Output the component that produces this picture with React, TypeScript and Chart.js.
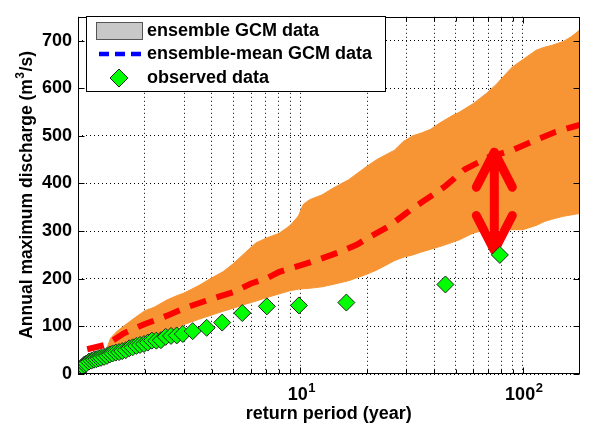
import React, { useEffect, useRef } from 'react';
import { Chart, registerables } from 'chart.js';

Chart.register(...registerables);

// Observed annual maxima, plotted at their empirical return periods (years)
const observedPeriod = [
  1.0, 1.01, 1.03, 1.05, 1.07, 1.09, 1.12, 1.15, 1.18, 1.21, 1.24, 1.27, 1.31, 1.35,
  1.39, 1.43, 1.48, 1.53, 1.58, 1.64, 1.7, 1.76, 1.83, 1.9, 1.98, 2.06, 2.15, 2.25,
  2.36, 2.48, 2.62, 2.78, 2.96, 3.28, 3.79, 4.45, 5.48, 7.07, 9.85, 16.1, 44.9, 78.9,
];
const observedDischarge = [
  3, 8, 12, 16, 20, 22, 26, 28, 30, 31, 33, 34, 36, 38,
  41, 43, 45, 46, 48, 50, 54, 56, 59, 61, 63, 66, 70, 70,
  71, 78, 80, 81, 84, 90, 97, 108, 128, 142, 144, 150, 188, 250,
];

// Envelope of the GCM ensemble
const bandPeriod = [
  1.0, 1.1, 1.2, 1.3, 1.35, 1.4, 1.5, 1.6, 1.8, 2.0, 2.2, 2.5, 2.8, 3.0, 3.5, 4.0, 4.5,
  5.0, 5.5, 6.3, 7, 8, 9, 9.8, 10.3, 11, 12.5, 14, 16.5, 19.5, 22, 26.5, 29, 32, 35,
  38.6, 42, 48, 52, 60, 69, 76, 82, 90, 100, 115, 125, 135, 152, 165, 180,
];
const bandUpper = [
  6, 20, 30, 40, 55, 75, 90, 100, 118, 133, 140, 155, 165, 170, 186, 202, 215,
  232, 250, 275, 285, 295, 312, 332, 356, 366, 376, 390, 408, 433, 450, 470, 488, 500, 506,
  514, 526, 542, 550, 568, 590, 608, 625, 645, 660, 680, 686, 690, 698, 708, 722,
];
const bandLower = [
  2, 14, 24, 33, 37, 40, 48, 55, 64, 70, 76, 85, 97, 104, 115, 124, 132,
  138, 145, 153, 160, 168, 175, 178, 179, 180, 183, 188, 196, 208, 218, 238, 245, 250, 256,
  262, 267, 276, 282, 296, 303, 303, 303, 303, 303, 312, 320, 325, 331, 334, 337,
];

// Ensemble-mean curve
const meanPeriod = [
  1.1, 1.35, 1.6, 2.0, 2.5, 3.0, 4.0, 5.0, 6.0, 7.0, 8.0, 10, 12, 15, 18, 20, 25, 30,
  35, 40, 45, 55, 70, 90, 110, 140, 180,
];
const meanDischarge = [
  52, 62, 85, 105, 122, 138, 158, 172, 190, 200, 214, 228, 240, 256, 272, 285, 310, 338,
  360, 378, 395, 430, 455, 470, 488, 508, 523,
];

// Gap between the ensemble mean and the observed 79-year event
const arrowPeriod = 74.5;
const arrowTop = 470;
const arrowBottom = 255;

const xGridValues = [1, 2, 3, 4, 5, 6, 7, 8, 9, 10, 20, 30, 40, 50, 60, 70, 80, 90, 100];
const xMajorValues = [1, 10, 100];
// decade labels: base and exponent
const xLabelValues = [10, 100];
const xLabelExponents = ['1', '2'];
const yTickValues = [0, 100, 200, 300, 400, 500, 600, 700];

const legendLabels = ['ensemble GCM data', 'ensemble-mean GCM data', 'observed data'];
const xTitle = 'return period (year)';
const yTitleParts = ['Annual maximum discharge (m', '3', '/s)'];

const FONT = '"Liberation Sans", Arial, Helvetica, sans-serif';
const ORANGE = 'rgb(247,149,52)';
const RED = '#ff0000';
const GREEN = '#00ff00';

const toPoints = (xs: number[], ys: number[]) => xs.map((x, i) => ({ x, y: ys[i] }));

const decorations = {
  id: 'decorations',
  afterDatasetDraw(chart: any, args: any) {
    if (args.index !== 1) return;
    // double-headed arrow drawn over the mean line
    const { ctx, scales } = chart;
    const x = scales.x.getPixelForValue(arrowPeriod);
    const yT = scales.y.getPixelForValue(arrowTop);
    const yB = scales.y.getPixelForValue(arrowBottom);
    ctx.save();
    ctx.strokeStyle = RED;
    ctx.lineWidth = 9;
    ctx.lineCap = 'round';
    ctx.lineJoin = 'round';
    ctx.beginPath();
    ctx.moveTo(x, yT + 4);
    ctx.lineTo(x, yB - 4);
    ctx.moveTo(x - 18, yT + 37);
    ctx.lineTo(x, yT + 2);
    ctx.lineTo(x + 18, yT + 37);
    ctx.moveTo(x - 18, yB - 37);
    ctx.lineTo(x, yB - 2);
    ctx.lineTo(x + 18, yB - 37);
    ctx.stroke();
    ctx.restore();
  },
  afterDatasetsDraw(chart: any) {
    const { ctx, chartArea: a, scales } = chart;
    ctx.save();
    ctx.strokeStyle = '#000';
    ctx.lineWidth = 1;
    const L = Math.round(a.left) + 0.5;
    const R = Math.round(a.right) - 0.5;
    const T = Math.round(a.top) + 0.5;
    const B = Math.round(a.bottom) - 0.5;
    ctx.beginPath();
    // inward tick marks on the x axis (top and bottom)
    xGridValues.forEach((v) => {
      const px = Math.round(scales.x.getPixelForValue(v)) + 0.5;
      const len = xMajorValues.includes(v) ? 6 : 4;
      ctx.moveTo(px, B);
      ctx.lineTo(px, B - len);
      ctx.moveTo(px, T);
      ctx.lineTo(px, T + len);
    });
    // inward tick marks on the y axis (left and right)
    yTickValues.forEach((v) => {
      const py = Math.round(scales.y.getPixelForValue(v)) + 0.5;
      ctx.moveTo(L, py);
      ctx.lineTo(L + 6, py);
      ctx.moveTo(R, py);
      ctx.lineTo(R - 6, py);
    });
    ctx.stroke();
    ctx.strokeRect(L, T, R - L, B - T);
    ctx.restore();
  },
  afterDraw(chart: any) {
    const { ctx, chartArea: a, scales } = chart;
    ctx.save();
    ctx.fillStyle = '#000';
    ctx.textBaseline = 'alphabetic';
    ctx.textAlign = 'left';

    // decade tick labels with raised exponents
    const baseFont = `bold 18px ${FONT}`;
    const supFont = `bold 13px ${FONT}`;
    xLabelValues.forEach((v, i) => {
      const px = scales.x.getPixelForValue(v);
      ctx.font = baseFont;
      const wBase = ctx.measureText(String(v)).width;
      ctx.font = supFont;
      const wSup = ctx.measureText(xLabelExponents[i]).width;
      const x0 = px - (wBase + wSup) / 2 + 1;
      ctx.font = baseFont;
      ctx.fillText(String(v), x0, a.bottom + 26);
      ctx.font = supFont;
      ctx.fillText(xLabelExponents[i], x0 + wBase + 0.5, a.bottom + 18);
    });

    // x axis title
    ctx.font = `bold 18px ${FONT}`;
    ctx.textAlign = 'center';
    ctx.fillText(xTitle, (a.left + a.right) / 2, 419);

    // y axis title with superscript, rotated
    ctx.save();
    ctx.translate(31.7, (a.top + a.bottom) / 2);
    ctx.rotate(-Math.PI / 2);
    ctx.textAlign = 'left';
    const mainFont = `bold 17.5px ${FONT}`;
    const smallFont = `bold 12px ${FONT}`;
    ctx.font = mainFont;
    const w0 = ctx.measureText(yTitleParts[0]).width;
    const w2 = ctx.measureText(yTitleParts[2]).width;
    ctx.font = smallFont;
    const w1 = ctx.measureText(yTitleParts[1]).width;
    let cx = -(w0 + w1 + w2) / 2;
    ctx.font = mainFont;
    ctx.fillText(yTitleParts[0], cx, 0);
    cx += w0 + 0.5;
    ctx.font = smallFont;
    ctx.fillText(yTitleParts[1], cx, -8);
    cx += w1 + 0.5;
    ctx.font = mainFont;
    ctx.fillText(yTitleParts[2], cx, 0);
    ctx.restore();

    // legend box
    ctx.fillStyle = '#fff';
    ctx.strokeStyle = '#000';
    ctx.lineWidth = 1;
    ctx.fillRect(86.5, 16.5, 299, 75);
    ctx.strokeRect(86.5, 16.5, 299, 75);

    // patch swatch
    ctx.fillStyle = '#c8c8c8';
    ctx.strokeStyle = '#555';
    ctx.fillRect(96.5, 22.5, 46, 17);
    ctx.strokeRect(96.5, 22.5, 46, 17);

    // dashed line swatch
    ctx.strokeStyle = '#0000ff';
    ctx.lineWidth = 4.5;
    ctx.setLineDash([10, 6]);
    ctx.beginPath();
    ctx.moveTo(99, 54);
    ctx.lineTo(143, 54);
    ctx.stroke();
    ctx.setLineDash([]);

    // marker swatch
    ctx.fillStyle = GREEN;
    ctx.strokeStyle = '#222';
    ctx.lineWidth = 1;
    ctx.beginPath();
    ctx.moveTo(119, 69);
    ctx.lineTo(128, 78);
    ctx.lineTo(119, 87);
    ctx.lineTo(110, 78);
    ctx.closePath();
    ctx.fill();
    ctx.stroke();

    ctx.fillStyle = '#000';
    ctx.font = `bold 18px ${FONT}`;
    ctx.textBaseline = 'middle';
    ctx.textAlign = 'left';
    ctx.fillText(legendLabels[0], 147, 31);
    ctx.fillText(legendLabels[1], 147, 54);
    ctx.fillText(legendLabels[2], 147, 78);
    ctx.restore();
  },
};

export default function App() {
  const canvasRef = useRef<HTMLCanvasElement | null>(null);

  useEffect(() => {
    if (!canvasRef.current) return;
    const chart = new Chart(canvasRef.current, {
      type: 'line',
      data: {
        datasets: [
          {
            label: legendLabels[2],
            data: toPoints(observedPeriod, observedDischarge),
            showLine: false,
            pointStyle: 'rectRot',
            pointRadius: 8.5,
            pointBackgroundColor: GREEN,
            pointBorderColor: '#222',
            pointBorderWidth: 1,
          },
          {
            label: legendLabels[1],
            data: toPoints(meanPeriod, meanDischarge),
            borderColor: RED,
            borderWidth: 6,
            borderDash: [17, 11],
            borderCapStyle: 'butt',
            pointRadius: 0,
            tension: 0,
            fill: false,
          },
          {
            label: legendLabels[0],
            data: toPoints(bandPeriod, bandUpper),
            borderColor: ORANGE,
            backgroundColor: ORANGE,
            borderWidth: 1,
            pointRadius: 0,
            tension: 0,
            fill: '+1',
          },
          {
            label: 'ensemble lower',
            data: toPoints(bandPeriod, bandLower),
            borderColor: ORANGE,
            backgroundColor: ORANGE,
            borderWidth: 1,
            pointRadius: 0,
            tension: 0,
            fill: false,
          },
        ],
      },
      options: {
        animation: false,
        responsive: false,
        devicePixelRatio: 1,
        events: [],
        layout: { padding: { top: 9, right: 6, left: 0, bottom: 0 } },
        plugins: {
          legend: { display: false },
          tooltip: { enabled: false },
        },
        scales: {
          x: {
            type: 'logarithmic',
            min: 1,
            max: 180,
            afterFit: (s: any) => {
              s.height = 58;
            },
            afterBuildTicks: (s: any) => {
              s.ticks = xGridValues.map((value) => ({ value }));
            },
            ticks: {
              autoSkip: false,
              maxRotation: 0,
              callback: () => '',
            },
            grid: { color: '#000', lineWidth: 1, drawTicks: false },
            border: { display: false, dash: [1, 3] },
            title: { display: false },
          },
          y: {
            type: 'linear',
            min: 0,
            max: 750,
            afterFit: (s: any) => {
              s.width = 78;
            },
            afterBuildTicks: (s: any) => {
              s.ticks = yTickValues.map((value) => ({ value }));
            },
            ticks: {
              padding: 6,
              color: '#000',
              font: { family: FONT, size: 18, weight: 'bold' },
            },
            grid: { color: '#000', lineWidth: 1, drawTicks: false },
            border: { display: false, dash: [1, 3] },
            title: { display: false },
          },
        },
      },
      plugins: [decorations],
    } as any);
    return () => chart.destroy();
  }, []);

  return (
    <div style={{ position: 'fixed', left: 0, top: 0, width: 589, height: 432, background: '#fff' }}>
      <canvas ref={canvasRef} width={589} height={432} style={{ display: 'block' }} />
    </div>
  );
}
